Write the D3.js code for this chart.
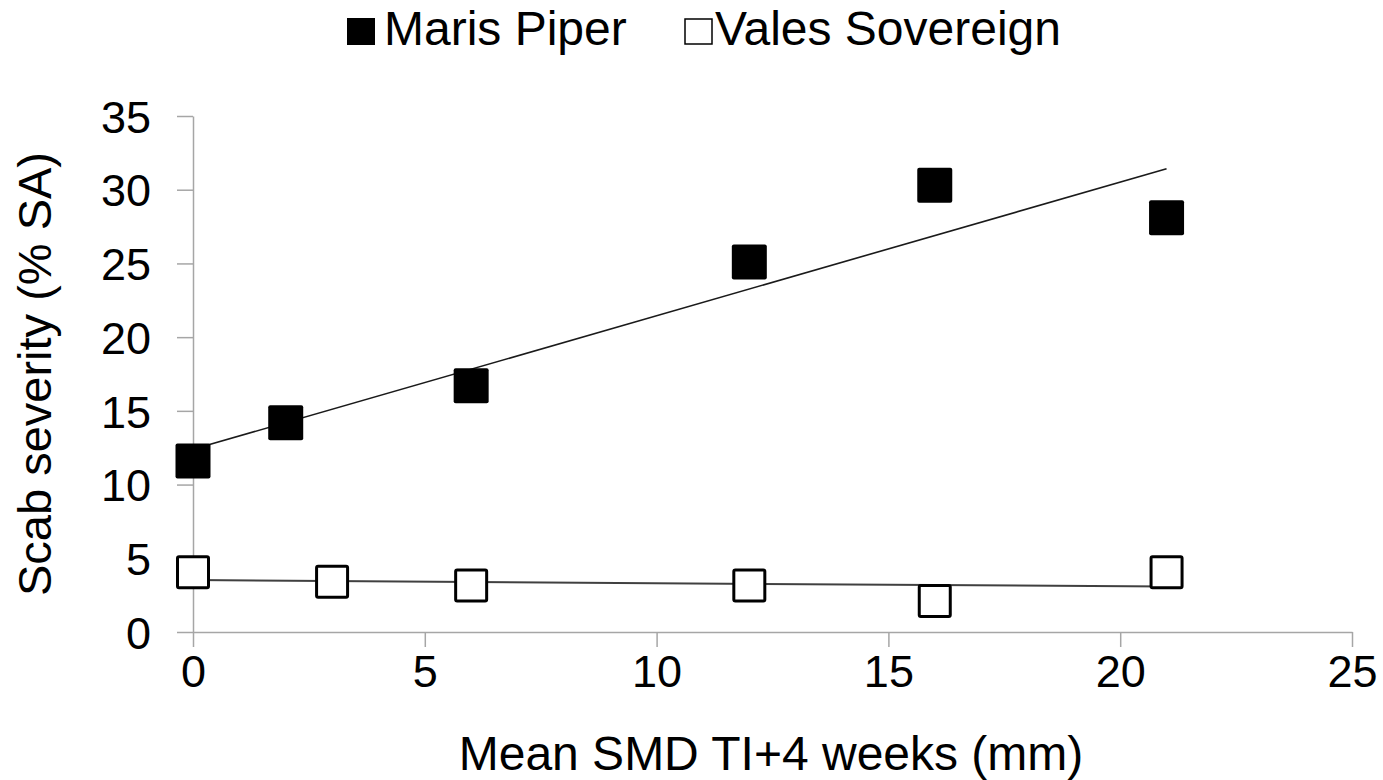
<!DOCTYPE html>
<html>
<head>
<meta charset="utf-8">
<script src="https://cdn.jsdelivr.net/npm/d3@7"></script>
<style>
  body { margin: 0; background: #ffffff; }
  svg text { font-family: "Liberation Sans", Arial, sans-serif; fill: #000; }
</style>
</head>
<body>
<div id="chart"></div>
<script>

// data
var seriesNames = ['Maris Piper', 'Vales Sovereign'];
var piperX = [0, 2, 6, 12, 16, 21];
var piperY = [11.6, 14.2, 16.7, 25.1, 30.3, 28.1];
var valesX = [0, 3, 6, 12, 16, 21];
var valesY = [4.05, 3.4, 3.15, 3.15, 2.1, 4.05];
var xTicks = [0, 5, 10, 15, 20, 25];
var yTicks = [0, 5, 10, 15, 20, 25, 30, 35];

var width = 1383;
var height = 780;

var plot_left = 193;
var plot_right = 1352;
var plot_top = 116;
var plot_bottom = 632;

var svg = d3.select('#chart')
  .append('svg')
    .attr('width', width)
    .attr('height', height);

var x = d3.scaleLinear().domain([0, 25]).range([plot_left, plot_right]);
var y = d3.scaleLinear().domain([0, 35]).range([plot_bottom, plot_top]);

// axes
var axis_color = '#a6a6a6';

var xAxis = svg.append('g')
    .attr('transform', 'translate(0,' + plot_bottom + ')')
    .call(d3.axisBottom(x).tickValues(xTicks).tickSize(15).tickPadding(8).tickSizeOuter(0));
xAxis.select('.domain').attr('stroke', axis_color).attr('stroke-width', 1.5);
xAxis.selectAll('.tick line').attr('stroke', axis_color).attr('stroke-width', 1.5);
xAxis.selectAll('.tick text')
    .attr('font-size', '45px')
    .attr('font-family', '"Liberation Sans", Arial, sans-serif')
    .attr('fill', '#000');

var yAxis = svg.append('g')
    .attr('transform', 'translate(' + plot_left + ',0)')
    .call(d3.axisLeft(y).tickValues(yTicks).tickSize(16).tickPadding(26).tickSizeOuter(0));
yAxis.select('.domain').attr('stroke', axis_color).attr('stroke-width', 1.5);
yAxis.selectAll('.tick line').attr('stroke', axis_color).attr('stroke-width', 1.5);
yAxis.selectAll('.tick text')
    .attr('font-size', '45px')
    .attr('dy', '0.36em')
    .attr('font-family', '"Liberation Sans", Arial, sans-serif')
    .attr('fill', '#000');

// axis titles
svg.append('text')
    .attr('x', 771)
    .attr('y', 770)
    .attr('font-size', '48px')
    .style('text-anchor', 'middle')
    .text('Mean SMD TI+4 weeks (mm)');

svg.append('text')
    .attr('transform', 'translate(51, 374) rotate(-90)')
    .attr('font-size', '47px')
    .style('text-anchor', 'middle')
    .text('Scab severity (% SA)');

// linear trend line (least squares)
function fit(xs, ys) {
    var mx = d3.mean(xs), my = d3.mean(ys);
    var sxy = d3.sum(xs, function(d, i) { return (d - mx) * (ys[i] - my); });
    var sxx = d3.sum(xs, function(d) { return (d - mx) * (d - mx); });
    var slope = sxy / sxx;
    var icpt = my - slope * mx;
    var ext = d3.extent(xs);
    return ext.map(function(v) { return [v, icpt + slope * v]; });
}

var line = d3.line()
    .x(function(d) { return x(d[0]); })
    .y(function(d) { return y(d[1]); });

svg.append('path')
    .datum(fit(piperX, piperY))
    .attr('fill', 'none')
    .attr('stroke', '#1a1a1a')
    .attr('stroke-width', 1.6)
    .attr('d', line);

svg.append('path')
    .datum(fit(valesX, valesY))
    .attr('fill', 'none')
    .attr('stroke', '#404040')
    .attr('stroke-width', 2)
    .attr('d', line);

// markers
var piper_size = 35;
svg.append('g')
    .selectAll('rect.piper')
    .data(piperX)
  .enter()
    .append('rect')
    .attr('class', 'piper')
    .attr('x', function(d) { return x(d) - piper_size / 2; })
    .attr('y', function(d, i) { return y(piperY[i]) - piper_size / 2; })
    .attr('width', piper_size)
    .attr('height', piper_size)
    .attr('rx', 2)
    .attr('fill', '#000');

var vales_size = 31;
svg.append('g')
    .selectAll('rect.vales')
    .data(valesX)
  .enter()
    .append('rect')
    .attr('class', 'vales')
    .attr('x', function(d) { return x(d) - vales_size / 2; })
    .attr('y', function(d, i) { return y(valesY[i]) - vales_size / 2; })
    .attr('width', vales_size)
    .attr('height', vales_size)
    .attr('rx', 1.5)
    .attr('fill', '#fff')
    .attr('stroke', '#000')
    .attr('stroke-width', 3);

// legend
var legend = svg.append('g');
legend.append('rect')
    .attr('x', 347).attr('y', 18)
    .attr('width', 28).attr('height', 27)
    .attr('fill', '#000');
legend.append('text')
    .attr('x', 384).attr('y', 45)
    .attr('font-size', '48px')
    .text(seriesNames[0]);

legend.append('rect')
    .attr('x', 685).attr('y', 19)
    .attr('width', 27).attr('height', 25)
    .attr('fill', '#fff')
    .attr('stroke', '#000')
    .attr('stroke-width', 1.5);
legend.append('text')
    .attr('x', 715).attr('y', 45)
    .attr('font-size', '48px')
    .text(seriesNames[1]);

</script>
</body>
</html>
